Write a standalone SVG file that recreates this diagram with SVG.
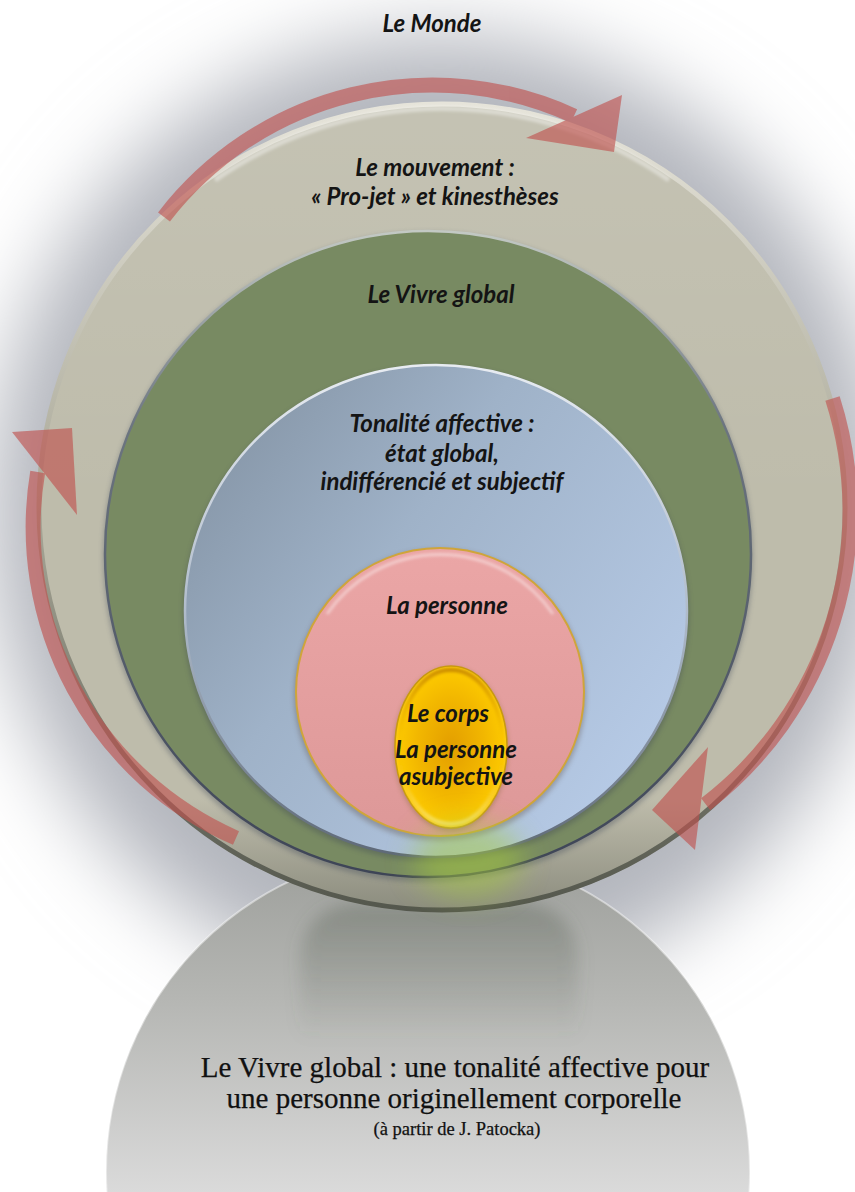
<svg xmlns="http://www.w3.org/2000/svg" width="855" height="1192" viewBox="0 0 855 1192">
  <style>
    .lbl{font-family:Lato,"Open Sans","Liberation Sans",sans-serif;font-weight:700;font-style:italic;fill:#141414;text-anchor:middle;font-size:24px}
    .cap{font-family:"Liberation Serif","DejaVu Serif",serif;fill:#111111;text-anchor:middle;stroke:#111111;stroke-width:0.25}
    .arrow{opacity:0.62}
    .arrow-body{fill:none;stroke:#c0504d;stroke-width:15}
    .arrow-head{fill:#c0504d;stroke:none}
    .drop{opacity:0.35}
  </style>
  <defs>
    <filter id="halo" x="-30%" y="-30%" width="160%" height="160%">
      <feGaussianBlur stdDeviation="42"/>
    </filter>
    <filter id="glow" x="-80%" y="-80%" width="260%" height="260%">
      <feGaussianBlur stdDeviation="14"/>
    </filter>
    <filter id="soft" x="-10%" y="-10%" width="120%" height="120%">
      <feGaussianBlur stdDeviation="2.5"/>
    </filter>
    <filter id="blur1" x="-10%" y="-10%" width="120%" height="120%">
      <feGaussianBlur stdDeviation="1.5"/>
    </filter>
    <filter id="blur8" x="-20%" y="-20%" width="140%" height="140%">
      <feGaussianBlur stdDeviation="8"/>
    </filter>

    <linearGradient id="reflGrad" gradientUnits="userSpaceOnUse" x1="0" y1="850" x2="0" y2="1192">
      <stop offset="0" stop-color="#9c9e9a"/>
      <stop offset="0.45" stop-color="#b6b7b4"/>
      <stop offset="1" stop-color="#dadada"/>
    </linearGradient>
    <linearGradient id="reflInner" x1="0" y1="0" x2="0" y2="1">
      <stop offset="0" stop-color="#5a6256" stop-opacity="0.4"/>
      <stop offset="1" stop-color="#5a6256" stop-opacity="0"/>
    </linearGradient>

    <linearGradient id="outerShade" x1="0" y1="0" x2="0" y2="1">
      <stop offset="0" stop-color="#ffffff" stop-opacity="0.1"/>
      <stop offset="0.5" stop-color="#ffffff" stop-opacity="0"/>
      <stop offset="0.86" stop-color="#4c5046" stop-opacity="0"/>
      <stop offset="1" stop-color="#4c5046" stop-opacity="0.45"/>
    </linearGradient>
    <linearGradient id="outerRim" x1="0" y1="0" x2="0" y2="1">
      <stop offset="0" stop-color="#e6e4da"/>
      <stop offset="0.5" stop-color="#a9a898"/>
      <stop offset="1" stop-color="#54574d"/>
    </linearGradient>
    <linearGradient id="greenRim" x1="0" y1="0" x2="0" y2="1">
      <stop offset="0" stop-color="#c3c9c4"/>
      <stop offset="0.3" stop-color="#6c7580"/>
      <stop offset="1" stop-color="#3d4456"/>
    </linearGradient>
    <linearGradient id="blueFill" x1="0" y1="0" x2="1" y2="0.7">
      <stop offset="0" stop-color="#7f8e9e"/>
      <stop offset="0.45" stop-color="#9fb2c8"/>
      <stop offset="1" stop-color="#b6cae6"/>
    </linearGradient>
    <linearGradient id="blueRim" x1="0" y1="0" x2="0" y2="1">
      <stop offset="0" stop-color="#e8ecf2"/>
      <stop offset="0.5" stop-color="#b0bccb"/>
      <stop offset="1" stop-color="#5d6877"/>
    </linearGradient>
    <linearGradient id="pinkFill" x1="0" y1="0" x2="0" y2="1">
      <stop offset="0" stop-color="#eba6a6"/>
      <stop offset="1" stop-color="#dd9898"/>
    </linearGradient>
    <radialGradient id="goldFill" cx="0.5" cy="0.5" r="0.55">
      <stop offset="0" stop-color="#e39e00"/>
      <stop offset="0.55" stop-color="#f2b700"/>
      <stop offset="0.85" stop-color="#fcc800"/>
      <stop offset="1" stop-color="#ffd633"/>
    </radialGradient>
    <linearGradient id="goldBevel" x1="0" y1="0" x2="0" y2="1">
      <stop offset="0" stop-color="#c98a00"/>
      <stop offset="0.5" stop-color="#f0b400" stop-opacity="0"/>
      <stop offset="1" stop-color="#ffe46a"/>
    </linearGradient>
  </defs>

  <!-- page and soft halo -->
  <rect width="855" height="1192" fill="#ffffff"/>
  <ellipse cx="440" cy="515" rx="450" ry="480" fill="#b3b6bd" filter="url(#halo)"/>

  <!-- mirrored reflection under the disc -->
  <g id="reflection">
    <circle cx="428" cy="1172" r="322" fill="url(#reflGrad)" stroke="#ffffff" stroke-opacity="0.45" stroke-width="2"/>
    <path d="M300,1040 L300,965 Q300,905 362,903 L518,903 Q578,905 578,965 L578,1040 Z" fill="url(#reflInner)" filter="url(#blur8)"/>
  </g>

  <g id="label-monde">
    <text class="lbl" x="432" y="32">Le Monde</text>
  </g>

  <!-- outer ring: movement -->
  <g id="node-mouvement">
    <circle cx="442" cy="507" r="405" fill="#bebcab"/>
    <circle cx="442" cy="507" r="405" fill="url(#outerShade)"/>
    <circle cx="442" cy="507" r="403" fill="none" stroke="url(#outerRim)" stroke-width="5"/>
    <path d="M215,180 A396,396 0 0 1 669,180" fill="none" stroke="#ffffff" stroke-opacity="0.4" stroke-width="5" filter="url(#blur1)"/>
    <text class="lbl" x="435" y="176">Le mouvement :</text>
    <text class="lbl" x="435" y="205">« Pro-jet » et kinesthèses</text>
  </g>

  <!-- global living -->
  <g id="node-vivre">
    <circle class="drop" cx="428" cy="557" r="325" fill="#3e4658" filter="url(#soft)"/>
    <circle cx="428" cy="554" r="323" fill="#788a62" stroke="url(#greenRim)" stroke-width="2.5"/>
    <text class="lbl" x="441" y="303">Le Vivre global</text>
  </g>

  <!-- affective tonality -->
  <g id="node-tonalite">
    <ellipse class="drop" cx="436" cy="614" rx="253" ry="248" fill="#3c4452" filter="url(#soft)"/>
    <ellipse cx="436" cy="611" rx="251" ry="246" fill="url(#blueFill)" stroke="url(#blueRim)" stroke-width="2.5"/>
    <text class="lbl" x="442" y="432">Tonalité affective :</text>
    <text class="lbl" x="442" y="462">état global,</text>
    <text class="lbl" x="442" y="490">indifférencié et subjectif</text>
  </g>

  <!-- the person -->
  <g id="node-personne">
    <circle class="drop" cx="440" cy="695" r="146" fill="#5a4a40" filter="url(#soft)"/>
    <circle cx="440" cy="692" r="144" fill="url(#pinkFill)" stroke="#cfa53a" stroke-width="2"/>
    <path d="M327,614 A137,137 0 0 1 553,614" fill="none" stroke="#ffffff" stroke-opacity="0.45" stroke-width="3" filter="url(#blur1)"/>
    <text class="lbl" x="447" y="614">La personne</text>
  </g>

  <!-- the body -->
  <g id="node-corps">
    <ellipse class="drop" cx="451" cy="749" rx="57" ry="82" fill="#6b5a20" filter="url(#soft)"/>
    <ellipse cx="451" cy="747" rx="56" ry="81" fill="url(#goldFill)" stroke="#c89a10" stroke-width="1.5"/>
    <ellipse cx="451" cy="747" rx="52" ry="77" fill="none" stroke="url(#goldBevel)" stroke-width="4" filter="url(#blur1)"/>
    <text class="lbl" x="448" y="722">Le corps</text>
    <text class="lbl" x="456" y="758">La personne</text>
    <text class="lbl" x="456" y="785">asubjective</text>
  </g>

  <!-- glassy glow at the base of the disc -->
  <ellipse cx="468" cy="860" rx="55" ry="38" fill="#a6cc3c" opacity="0.5" filter="url(#glow)"/>

  <!-- circular movement arrows -->
  <g id="connectors">
    <g class="arrow" id="arrow-top">
      <path class="arrow-body" d="M164,217 A339,339 0 0 1 574,116"/>
      <polygon class="arrow-head" points="526,138 622,95 614,152"/>
    </g>
    <g class="arrow" id="arrow-right">
      <path class="arrow-body" d="M832.5,398.5 A370,370 0 0 1 705.7,804.2"/>
      <polygon class="arrow-head" points="708,747 652,810 695,850"/>
    </g>
    <g class="arrow" id="arrow-left">
      <path class="arrow-body" d="M236,838 A339,339 0 0 1 37.7,472"/>
      <polygon class="arrow-head" points="12,432 72,428 77,515"/>
    </g>
  </g>

  <!-- caption -->
  <g id="caption">
    <text class="cap" x="455" y="1077" font-size="29">Le Vivre global : une tonalité affective pour</text>
    <text class="cap" x="454" y="1108" font-size="29">une personne originellement corporelle</text>
    <text class="cap" x="457" y="1135" font-size="18.5" stroke-width="0">(à partir de J. Patocka)</text>
  </g>
</svg>
